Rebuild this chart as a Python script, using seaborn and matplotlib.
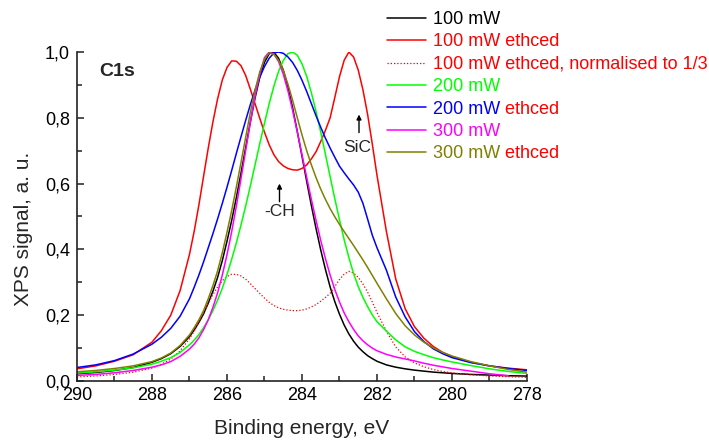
import matplotlib
matplotlib.use("Agg")
import matplotlib.pyplot as plt
from matplotlib.lines import Line2D
from matplotlib.ticker import MultipleLocator, FuncFormatter
import seaborn as sns

# Binding energy grid (eV), shared by all C1s spectra
energy = [290, 289.5, 289, 288.5, 288, 287.75, 287.5, 287.25,
          287, 286.875, 286.75, 286.625, 286.5, 286.375, 286.25, 286.125,
          286, 285.875, 285.75, 285.625, 285.5, 285.375, 285.25, 285.125,
          285, 284.875, 284.75, 284.625, 284.5, 284.375, 284.25, 284.125,
          284, 283.875, 283.75, 283.625, 283.5, 283.375, 283.25, 283.125,
          283, 282.875, 282.75, 282.625, 282.5, 282.375, 282.25, 282.125,
          282, 281.75, 281.5, 281.25, 281, 280.75, 280.5, 280.25,
          280, 279.5, 279, 278.5, 278]

# Normalised C1s XPS signal for each sample
c1s_100 = [0.022, 0.026, 0.032, 0.041, 0.057, 0.068, 0.083, 0.105,
           0.135, 0.155, 0.178, 0.204, 0.237, 0.273, 0.315, 0.366,
           0.425, 0.488, 0.558, 0.633, 0.711, 0.789, 0.861, 0.923,
           0.969, 0.995, 0.999, 0.981, 0.945, 0.893, 0.830, 0.758,
           0.683, 0.607, 0.533, 0.463, 0.398, 0.339, 0.286, 0.241,
           0.203, 0.170, 0.143, 0.121, 0.103, 0.089, 0.077, 0.068,
           0.060, 0.049, 0.042, 0.037, 0.033, 0.030, 0.027, 0.025,
           0.023, 0.020, 0.018, 0.016, 0.015]

c1s_100_etched = [0.037, 0.046, 0.060, 0.080, 0.118, 0.153, 0.200, 0.275,
                  0.385, 0.455, 0.535, 0.622, 0.708, 0.788, 0.858, 0.915,
                  0.953, 0.973, 0.972, 0.958, 0.928, 0.886, 0.842, 0.798,
                  0.756, 0.718, 0.688, 0.667, 0.654, 0.646, 0.642, 0.641,
                  0.646, 0.657, 0.675, 0.697, 0.728, 0.762, 0.800, 0.862,
                  0.925, 0.975, 1.000, 0.985, 0.945, 0.885, 0.810, 0.720,
                  0.625, 0.455, 0.310, 0.220, 0.165, 0.130, 0.105, 0.087,
                  0.074, 0.057, 0.046, 0.039, 0.034]

c1s_200 = [0.024, 0.028, 0.033, 0.040, 0.051, 0.060, 0.071, 0.087,
           0.110, 0.124, 0.141, 0.162, 0.186, 0.214, 0.246, 0.282,
           0.324, 0.370, 0.420, 0.475, 0.533, 0.594, 0.658, 0.722,
           0.784, 0.843, 0.896, 0.941, 0.974, 0.995, 1.000, 0.990,
           0.964, 0.926, 0.876, 0.819, 0.756, 0.689, 0.621, 0.554,
           0.490, 0.429, 0.375, 0.327, 0.287, 0.254, 0.226, 0.201,
           0.180, 0.152, 0.125, 0.104, 0.090, 0.080, 0.071, 0.064,
           0.058, 0.047, 0.037, 0.029, 0.023]

c1s_200_etched = [0.041, 0.049, 0.062, 0.082, 0.112, 0.133, 0.160, 0.197,
                  0.250, 0.285, 0.322, 0.362, 0.405, 0.448, 0.493, 0.540,
                  0.589, 0.640, 0.692, 0.743, 0.793, 0.841, 0.885, 0.924,
                  0.956, 0.981, 0.997, 1.000, 0.996, 0.985, 0.968, 0.944,
                  0.914, 0.880, 0.843, 0.806, 0.771, 0.738, 0.708, 0.680,
                  0.653, 0.633, 0.614, 0.596, 0.574, 0.540, 0.492, 0.443,
                  0.405, 0.337, 0.255, 0.195, 0.150, 0.120, 0.098, 0.083,
                  0.071, 0.056, 0.046, 0.038, 0.032]

# the 300 mW scan stops at 278.5 eV
c1s_300 = [0.017, 0.020, 0.025, 0.032, 0.042, 0.049, 0.059, 0.075,
           0.097, 0.112, 0.131, 0.156, 0.186, 0.224, 0.268, 0.322,
           0.384, 0.454, 0.532, 0.616, 0.702, 0.788, 0.867, 0.933,
           0.983, 1.000, 0.994, 0.971, 0.933, 0.882, 0.822, 0.757,
           0.688, 0.619, 0.552, 0.488, 0.427, 0.372, 0.322, 0.278,
           0.240, 0.207, 0.180, 0.157, 0.137, 0.122, 0.110, 0.100,
           0.092, 0.081, 0.073, 0.067, 0.061, 0.054, 0.048, 0.043,
           0.038, 0.030, 0.022, 0.016]

c1s_300_etched = [0.028, 0.032, 0.038, 0.046, 0.059, 0.070, 0.085, 0.108,
                  0.140, 0.162, 0.186, 0.214, 0.250, 0.290, 0.335, 0.390,
                  0.452, 0.518, 0.590, 0.665, 0.742, 0.818, 0.885, 0.940,
                  0.978, 0.998, 0.993, 0.975, 0.945, 0.902, 0.853, 0.800,
                  0.748, 0.700, 0.657, 0.618, 0.583, 0.552, 0.524, 0.499,
                  0.476, 0.454, 0.433, 0.412, 0.390, 0.368, 0.345, 0.321,
                  0.297, 0.250, 0.205, 0.168, 0.140, 0.118, 0.101, 0.087,
                  0.076, 0.059, 0.046, 0.035, 0.027]

# etched 100 mW spectrum scaled down to one third
c1s_100_etched_third = [v / 3 for v in c1s_100_etched]

x_ticks = [290, 288, 286, 284, 282, 280, 278]

RED = "#ff0000"
series = [
    ("100 mW", c1s_100, "#000000", "-"),
    ("100 mW ethced", c1s_100_etched, RED, "-"),
    ("100 mW ethced, normalised to 1/3", c1s_100_etched_third, RED, (0, (1, 1.6))),
    ("200 mW", c1s_200, "#00ff00", "-"),
    ("200 mW", c1s_200_etched, "#0000ff", "-"),
    ("300 mW", c1s_300, "#ff00ff", "-"),
    ("300 mW", c1s_300_etched, "#808000", "-"),
]
# entries whose legend label continues with a red " ethced"
two_tone = (4, 6)

sns.set_style("ticks")
plt.rcParams["font.family"] = ["Liberation Sans", "DejaVu Sans"]

fig = plt.figure(figsize=(7.09, 4.44), dpi=100)
ax = fig.add_axes([77 / 709, 63 / 444, 450 / 709, 329 / 444])

handles = []
for label, vals, color, ls in series:
    lw = 0.9 if ls != "-" else 1.1
    sns.lineplot(x=energy[:len(vals)], y=vals, color=color, linestyle=ls,
                 linewidth=lw, ax=ax, sort=False, estimator=None)
    handles.append(Line2D([], [], color=color, linestyle=ls, linewidth=lw))

ax.set_xlim(290, 278)
ax.set_ylim(0, 1.0)
ax.xaxis.set_minor_locator(MultipleLocator(1))
ax.yaxis.set_major_locator(MultipleLocator(0.2))
ax.yaxis.set_minor_locator(MultipleLocator(0.1))
ax.set_xticks(x_ticks)
ax.xaxis.set_major_formatter(FuncFormatter(lambda v, _: f"{v:.0f}"))
ax.yaxis.set_major_formatter(FuncFormatter(lambda v, _: f"{v:.1f}".replace(".", ",")))

sns.despine(ax=ax)
for side in ("left", "bottom"):
    ax.spines[side].set_linewidth(1.2)
    ax.spines[side].set_color("#222222")
ax.tick_params(which="both", direction="in", width=1.1, colors="#222222",
               labelcolor="black", labelsize=13)
ax.tick_params(which="major", length=5)
ax.tick_params(which="minor", length=3.5)
ax.tick_params(axis="x", pad=4)
ax.tick_params(axis="y", pad=5)

ax.set_xlabel("Binding energy, eV", fontsize=15)
ax.set_ylabel("XPS signal, a. u.", fontsize=15)
ax.xaxis.label.set_verticalalignment("center")
ax.yaxis.label.set_verticalalignment("center")
ax.xaxis.set_label_coords(0.5, -0.145)
ax.yaxis.set_label_coords(-0.119, 0.462)

ax.text(288.93, 0.94, "C1s", fontsize=14, fontweight="bold", ha="center", va="center")

# peak assignments
arrow = dict(arrowstyle="-|>", color="black", lw=1.0, mutation_scale=7,
             shrinkA=0, shrinkB=0)
ax.annotate("", xy=(284.6, 0.60), xytext=(284.6, 0.545), arrowprops=arrow)
ax.text(284.6, 0.515, "-CH", fontsize=12.5, ha="center", va="center")
ax.annotate("", xy=(282.48, 0.81), xytext=(282.48, 0.755), arrowprops=arrow)
ax.text(282.52, 0.71, "SiC", fontsize=12.5, ha="center", va="center")

leg = fig.legend(handles, [s[0] for s in series], loc="upper left",
                 bbox_to_anchor=(387 / 709, 433 / 444), frameon=False,
                 fontsize=13, handlelength=2.15, handletextpad=0.4,
                 labelspacing=0.3, borderpad=0, borderaxespad=0)
for i, txt in enumerate(leg.get_texts()):
    txt.set_color(series[i][2])

# red " ethced" continuation after the coloured power label
fig.canvas.draw()
for i in two_tone:
    bb = leg.get_texts()[i].get_window_extent()
    fig.text(bb.x1 / fig.bbox.width, bb.y0 / fig.bbox.height, " ethced",
             color=RED, fontsize=13, ha="left", va="bottom")

fig.savefig("out.png", dpi=100)
